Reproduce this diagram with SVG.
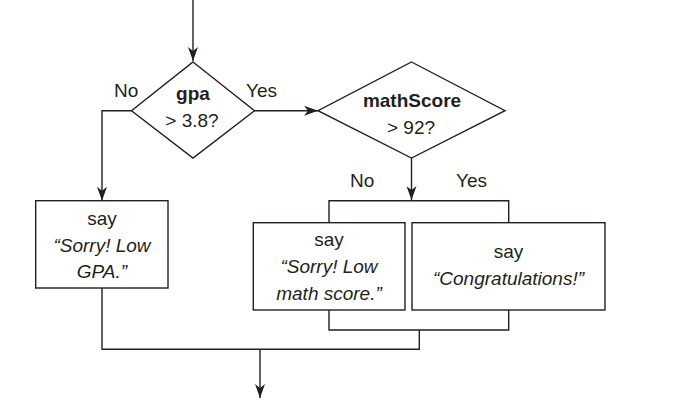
<svg xmlns="http://www.w3.org/2000/svg" width="673" height="417" viewBox="0 0 673 417">
<style>
.shape{fill:#fff;stroke:#231f20;stroke-width:1.4}
.line{fill:none;stroke:#231f20;stroke-width:1.4}
text{font-family:"Liberation Sans",Arial,sans-serif;font-size:19px;fill:#231f20;text-anchor:middle}
.b{font-weight:bold}
.i{font-style:italic}
.lbl{text-anchor:start}
</style>
<defs>
<marker id="arr" viewBox="0 0 14 10" refX="14" refY="5" markerWidth="14" markerHeight="10" markerUnits="userSpaceOnUse" orient="auto">
<path d="M0,0 L14,5 L0,10 L4,5 z" fill="#231f20"/>
</marker>
</defs>
<rect width="673" height="417" fill="#fff"/>
<g id="connectors">
<path class="line" d="M193,0 V61" marker-end="url(#arr)"/>
<path class="line" d="M254,110.7 H318" marker-end="url(#arr)"/>
<path class="line" d="M131.5,110.7 H102 V200.7" marker-end="url(#arr)"/>
<path class="line" d="M411.5,158 V200" marker-end="url(#arr)"/>
<path class="line" d="M329,222.7 V200.7 H508.7 V222.7"/>
<path class="line" d="M329,310 V330 H508.7 V310"/>
<path class="line" d="M419.3,330 V349.3 H102 V288"/>
<path class="line" d="M260,349.3 V398" marker-end="url(#arr)"/>
<text class="lbl" x="114" y="97">No</text>
<text class="lbl" x="246" y="97">Yes</text>
<text class="lbl" x="350" y="187">No</text>
<text class="lbl" x="456" y="187">Yes</text>
</g>
<g id="gpa">
<polygon class="shape" points="193,62 254.5,110.7 193,158 131.5,110.7"/>
<text class="b" x="193" y="100">gpa</text>
<text x="192" y="127">&gt; 3.8?</text>
</g>
<g id="mathScore">
<polygon class="shape" points="411.5,62 505,110.7 411.5,158 318,110.7"/>
<text class="b" x="412" y="107">mathScore</text>
<text x="411" y="134">&gt; 92?</text>
</g>
<g id="sayLowGPA">
<rect class="shape" x="35.7" y="200.7" width="132.3" height="87.3"/>
<text x="102" y="225">say</text>
<text class="i" x="102" y="251.5">“Sorry! Low</text>
<text class="i" x="102" y="278">GPA.”</text>
</g>
<g id="sayLowMath">
<rect class="shape" x="253.3" y="222.7" width="151.7" height="87.3"/>
<text x="329" y="246">say</text>
<text class="i" x="329" y="272.5">“Sorry! Low</text>
<text class="i" x="329" y="299.5">math score.”</text>
</g>
<g id="sayCongrats">
<rect class="shape" x="412" y="222.7" width="193" height="87.3"/>
<text x="508.5" y="258.3">say</text>
<text class="i" x="508.5" y="285">“Congratulations!”</text>
</g>
</svg>
